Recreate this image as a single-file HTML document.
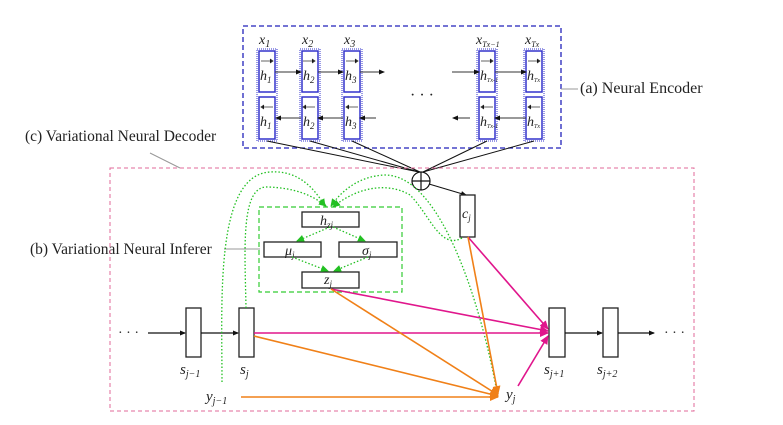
<!DOCTYPE html>
<html><head><meta charset="utf-8"><style>
body{margin:0;background:#fff}
svg{display:block}
text{font-family:"Liberation Serif",serif;fill:#222}
.m{font-style:italic;font-size:14px}
</style></head><body>
<svg width="783" height="425" viewBox="0 0 783 425" xmlns="http://www.w3.org/2000/svg">
<defs>
<marker id="ak" markerWidth="6" markerHeight="6" refX="5" refY="3" orient="auto" markerUnits="userSpaceOnUse"><path d="M0,0.5 L6,3 L0,5.5z" fill="#111"/></marker>
<marker id="ap" markerWidth="9" markerHeight="8" refX="8" refY="4" orient="auto" markerUnits="userSpaceOnUse"><path d="M0,0 L9,4 L0,8z" fill="#e0168c"/></marker>
<marker id="ao" markerWidth="9" markerHeight="8" refX="8" refY="4" orient="auto" markerUnits="userSpaceOnUse"><path d="M0,0 L9,4 L0,8z" fill="#f08018"/></marker>
<marker id="ag" markerWidth="8" markerHeight="7" refX="7" refY="3.5" orient="auto" markerUnits="userSpaceOnUse"><path d="M0,0 L8,3.5 L0,7z" fill="#22c022"/></marker>
</defs>
<rect x="243" y="26" width="318" height="122" fill="none" stroke="#2222bb" stroke-width="1.3" stroke-dasharray="5,3"/>
<g stroke="#3333cc" fill="none">
<g id="col">
<rect x="257" y="49" width="20" height="92" stroke-width="1" stroke-dasharray="1,1"/>
<rect x="259" y="51" width="16" height="41" stroke-width="1.5"/>
<rect x="259" y="97" width="16" height="42" stroke-width="1.5"/>
</g>
<use href="#col" x="43"/><use href="#col" x="85"/><use href="#col" x="220"/><use href="#col" x="267"/>
</g>
<g stroke="#333" stroke-width="1">
<line x1="275" y1="72" x2="301" y2="72" marker-end="url(#ak)"/>
<line x1="318" y1="72" x2="343" y2="72" marker-end="url(#ak)"/>
<line x1="360" y1="72" x2="384" y2="72" marker-end="url(#ak)"/>
<line x1="452" y1="72" x2="479" y2="72" marker-end="url(#ak)"/>
<line x1="495" y1="72" x2="526" y2="72" marker-end="url(#ak)"/>
<line x1="301" y1="118" x2="276" y2="118" marker-end="url(#ak)"/>
<line x1="343" y1="118" x2="318" y2="118" marker-end="url(#ak)"/>
<line x1="376" y1="118" x2="360" y2="118" marker-end="url(#ak)"/>
<line x1="470" y1="118" x2="453" y2="118" marker-end="url(#ak)"/>
<line x1="526" y1="118" x2="495" y2="118" marker-end="url(#ak)"/>
</g>
<text x="410" y="100" font-size="16">· · ·</text>
<g class="m">
<text x="259" y="44" class="m" font-size="15">x<tspan font-size="10" dy="3">1</tspan></text>
<text x="302" y="44" class="m" font-size="15">x<tspan font-size="10" dy="3">2</tspan></text>
<text x="344" y="44" class="m" font-size="15">x<tspan font-size="10" dy="3">3</tspan></text>
<text x="476" y="44" class="m" font-size="15">x<tspan font-size="8" dy="3">Tx−1</tspan></text>
<text x="525" y="44" class="m" font-size="15">x<tspan font-size="8" dy="3">Tx</tspan></text>
<text x="260" y="80" class="m">h<tspan font-size="9" dy="3">1</tspan></text>
<text x="303" y="80" class="m">h<tspan font-size="9" dy="3">2</tspan></text>
<text x="345" y="80" class="m">h<tspan font-size="9" dy="3">3</tspan></text>
<text x="480" y="80" class="m" font-size="12">h<tspan font-size="6" dy="2">Tx-1</tspan></text>
<text x="527" y="80" class="m" font-size="12">h<tspan font-size="6" dy="2">Tx</tspan></text>
<text x="260" y="126" class="m">h<tspan font-size="9" dy="3">1</tspan></text>
<text x="303" y="126" class="m">h<tspan font-size="9" dy="3">2</tspan></text>
<text x="345" y="126" class="m">h<tspan font-size="9" dy="3">3</tspan></text>
<text x="480" y="126" class="m" font-size="12">h<tspan font-size="6" dy="2">Tx-1</tspan></text>
<text x="527" y="126" class="m" font-size="12">h<tspan font-size="6" dy="2">Tx</tspan></text>
</g>
<g stroke="#333" stroke-width="0.8">
<path d="M261,61h12M270,59l3,2l-3,2M303,61h12M312,59l3,2l-3,2M346,61h12M355,59l3,2l-3,2M481,61h12M490,59l3,2l-3,2M528,61h12M537,59l3,2l-3,2"/>
<path d="M261,107h12M264,105l-3,2l3,2M303,107h12M306,105l-3,2l3,2M346,107h12M349,105l-3,2l3,2M481,107h12M484,105l-3,2l3,2M528,107h12M531,105l-3,2l3,2"/>
</g>
<g stroke="#111" stroke-width="1">
<line x1="267" y1="141" x2="419" y2="172"/><line x1="310" y1="141" x2="419" y2="172"/>
<line x1="352" y1="141" x2="420" y2="172"/><line x1="487" y1="141" x2="423" y2="172"/>
<line x1="534" y1="141" x2="423" y2="172"/>
</g>
<text x="580" y="93" font-size="16">(a) Neural Encoder</text>
<line x1="561" y1="89" x2="578" y2="89" stroke="#999"/>
<text x="25" y="141" font-size="15.5">(c) Variational Neural Decoder</text>
<line x1="150" y1="153" x2="180" y2="168" stroke="#999"/>
<text x="30" y="254" font-size="15.5">(b) Variational Neural Inferer</text>
<line x1="224" y1="249" x2="260" y2="249" stroke="#999"/>
<rect x="110" y="168" width="584" height="243" fill="none" stroke="#e06a9a" stroke-width="1" stroke-dasharray="4,3"/>
<circle cx="421" cy="181" r="9" fill="#fff" stroke="#111" stroke-width="1.2"/>
<path d="M412,181h18M421,172v18" stroke="#111" stroke-width="1.2"/>
<line x1="429" y1="184" x2="466" y2="195" stroke="#111" marker-end="url(#ak)"/>
<rect x="259" y="207" width="143" height="85" fill="none" stroke="#33cc33" stroke-width="1.2" stroke-dasharray="5,3"/>
<g fill="#fff" stroke="#222" stroke-width="1.3">
<rect x="302" y="212" width="57" height="15"/>
<rect x="264" y="242" width="57" height="15"/>
<rect x="339" y="242" width="58" height="15"/>
<rect x="302" y="272" width="57" height="16"/>
<rect x="460" y="195" width="15" height="42"/>
<rect x="186" y="308" width="15" height="49"/>
<rect x="239" y="308" width="15" height="49"/>
<rect x="549" y="308" width="16" height="49"/>
<rect x="603" y="308" width="15" height="49"/>
</g>
<g class="m">
<text x="320" y="225">h<tspan font-size="9" dy="3">zj</tspan></text>
<text x="285" y="255">μ<tspan font-size="9" dy="3">j</tspan></text>
<text x="362" y="255">σ<tspan font-size="9" dy="3">j</tspan></text>
<text x="324" y="284">z<tspan font-size="9" dy="3">j</tspan></text>
<text x="462" y="218">c<tspan font-size="9" dy="3">j</tspan></text>
<text x="180" y="374" font-size="15">s<tspan font-size="10" dy="3">j−1</tspan></text>
<text x="240" y="374" font-size="15">s<tspan font-size="10" dy="3">j</tspan></text>
<text x="544" y="374" font-size="15">s<tspan font-size="10" dy="3">j+1</tspan></text>
<text x="597" y="374" font-size="15">s<tspan font-size="10" dy="3">j+2</tspan></text>
<text x="206" y="401" font-size="15">y<tspan font-size="10" dy="3">j−1</tspan></text>
<text x="506" y="399" font-size="15">y<tspan font-size="10" dy="3">j</tspan></text>
</g>
<text x="118" y="337" font-size="14">· · ·</text>
<text x="664" y="337" font-size="14">· · ·</text>
<g stroke="#111" stroke-width="1.2">
<line x1="148" y1="333" x2="185" y2="333" marker-end="url(#ak)"/>
<line x1="201" y1="333" x2="238" y2="333" marker-end="url(#ak)"/>
<line x1="565" y1="333" x2="602" y2="333" marker-end="url(#ak)"/>
<line x1="618" y1="333" x2="654" y2="333" marker-end="url(#ak)"/>
</g>
<g stroke="#22c022" stroke-width="1.3" fill="none" stroke-dasharray="1.5,2">
<line x1="330" y1="227" x2="297" y2="241" marker-end="url(#ag)"/>
<line x1="333" y1="227" x2="365" y2="241" marker-end="url(#ag)"/>
<line x1="292" y1="257" x2="328" y2="271" marker-end="url(#ag)"/>
<line x1="368" y1="257" x2="334" y2="271" marker-end="url(#ag)"/>
<path d="M222,382 C222,300 215,175 270,172 C300,170 315,190 325,206" marker-end="url(#ag)"/>
<path d="M246,308 C245,250 240,185 268,187 C295,188 312,195 326,206" marker-end="url(#ag)"/>
<path d="M497,392 C480,300 440,175 385,175 C360,176 342,190 331,206" marker-end="url(#ag)"/>
<path d="M462,238 C440,250 430,215 410,195 C390,183 360,185 333,207" marker-end="url(#ag)"/>
</g>
<g stroke="#e0168c" stroke-width="1.6">
<line x1="254" y1="333" x2="548" y2="333" marker-end="url(#ap)"/>
<line x1="331" y1="289" x2="548" y2="331" marker-end="url(#ap)"/>
<line x1="468" y1="237" x2="548" y2="329" marker-end="url(#ap)"/>
<line x1="518" y1="386" x2="548" y2="336" marker-end="url(#ap)"/>
</g>
<g stroke="#f08018" stroke-width="1.6">
<line x1="241" y1="397" x2="498" y2="397" marker-end="url(#ao)"/>
<line x1="254" y1="336" x2="498" y2="396" marker-end="url(#ao)"/>
<line x1="331" y1="289" x2="498" y2="395" marker-end="url(#ao)"/>
<line x1="468" y1="237" x2="498" y2="394" marker-end="url(#ao)"/>
</g>
</svg>
</body></html>
